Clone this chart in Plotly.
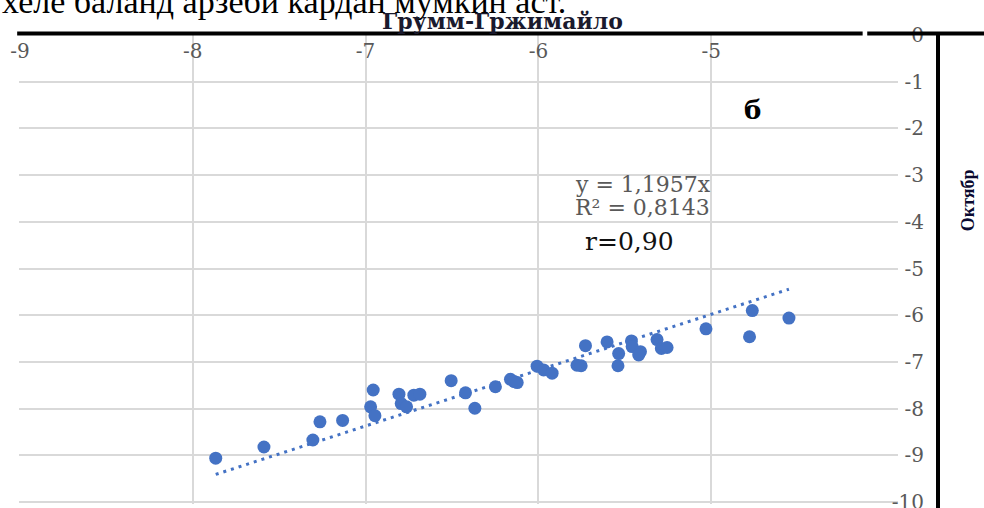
import numpy as np
import plotly.graph_objects as go

x_vals = [-7.867, -7.588, -7.305, -7.264, -7.133, -6.956, -6.971, -6.946,
          -6.807, -6.794, -6.763, -6.721, -6.686, -6.505, -6.422, -6.368,
          -6.249, -6.162, -6.140, -6.123, -6.008, -5.970, -5.921, -5.777,
          -5.753, -5.728, -5.603, -5.540, -5.536, -5.462, -5.458, -5.410,
          -5.420, -5.314, -5.289, -5.256, -5.031, -4.779, -4.763, -4.551]
y_vals = [-9.06, -8.82, -8.67, -8.28, -8.25, -7.60, -7.96, -8.15,
          -7.69, -7.89, -7.96, -7.71, -7.69, -7.40, -7.66, -7.99,
          -7.53, -7.37, -7.42, -7.44, -7.09, -7.17, -7.24, -7.07,
          -7.08, -6.65, -6.57, -7.08, -6.82, -6.55, -6.67, -6.78,
          -6.85, -6.52, -6.71, -6.69, -6.29, -6.46, -5.90, -6.06]

trend_slope = 1.1957
x_ticks = [-9, -8, -7, -6, -5]
x_ticktext = ["-9", "-8", "-7", "-6", "-5"]
y_ticks = [0, -1, -2, -3, -4, -5, -6, -7, -8, -9, -10]
y_ticktext = ["0", "-1", "-2", "-3", "-4", "-5", "-6", "-7", "-8", "-9", "-10"]

blue = "#4472C4"
grid = "#D9D9D9"
tick_grey = "#595959"

fig = go.Figure()

# linear trend through the origin
tx = np.array([min(x_vals), max(x_vals)])
fig.add_trace(go.Scatter(
    x=tx, y=trend_slope * tx, mode="lines",
    line=dict(color=blue, width=3, dash="3px,5px"),
    hoverinfo="skip", showlegend=False,
))

fig.add_trace(go.Scatter(
    x=x_vals, y=y_vals, mode="markers",
    marker=dict(color=blue, size=13),
    showlegend=False,
))

serif = "DejaVu Serif"

fig.update_layout(
    width=984, height=508,
    margin=dict(l=19, r=46, t=35, b=4, autoexpand=False),
    paper_bgcolor="white", plot_bgcolor="white",
    xaxis=dict(
        domain=[0, 0.9565], range=[-9.005, -3.92],
        side="top", tickvals=x_ticks, ticktext=x_ticktext,
        ticklabelposition="inside", ticklabeloverflow="allow",
        ticks="inside", ticklen=10, tickcolor="rgba(0,0,0,0)",
        showgrid=True, gridcolor=grid, gridwidth=1.5,
        zeroline=False, showline=False,
        tickfont=dict(family=serif, size=20, color=tick_grey),
    ),
    yaxis=dict(
        range=[-10.04, 0], anchor="free", position=1, side="left",
        tickvals=y_ticks, ticktext=y_ticktext, ticklabeloverflow="allow",
        ticks="outside", ticklen=10, tickcolor="rgba(0,0,0,0)",
        showgrid=True, gridcolor=grid, gridwidth=1.5,
        zeroline=False, showline=False,
        tickfont=dict(family=serif, size=20, color=tick_grey),
    ),
    shapes=[
        dict(type="line", xref="paper", yref="paper", x0=-0.002, x1=0.918,
             y0=1.003, y1=1.003, line=dict(color="black", width=4)),
        dict(type="line", xref="paper", yref="paper", x0=0.923, x1=1.055,
             y0=1.003, y1=1.003, line=dict(color="black", width=4)),
        dict(type="line", xref="paper", yref="paper", x0=1, x1=1,
             y0=-0.02, y1=1.003, line=dict(color="black", width=4)),
    ],
    annotations=[
        dict(text="хеле баланд арзёби кардан мумкин аст.", xref="paper", yref="paper",
             x=-0.021, y=1.027, xanchor="left", yanchor="bottom", showarrow=False,
             font=dict(family="Liberation Serif", size=34, color="black")),
        dict(text="<b>Грумм-Гржимайло</b>", xref="paper", yref="paper",
             x=0.5256, y=1.0288, xanchor="center", yanchor="middle", showarrow=False,
             font=dict(family=serif, size=22, color="#1a1a2e")),
        dict(text="<b>Октябр</b>", xref="paper", yref="paper",
             x=1.0327, y=0.648, xanchor="center", yanchor="middle", showarrow=False,
             textangle=-90, font=dict(family="Liberation Serif", size=18, color="#0a0a30")),
        dict(text="<b>б</b>", x=-4.763, y=-1.61, showarrow=False,
             font=dict(family=serif, size=26, color="black")),
        dict(text="y = 1,1957x", x=-5.798, y=-3.21, xanchor="left", showarrow=False,
             font=dict(family=serif, size=22, color=tick_grey)),
        dict(text="R² = 0,8143", x=-5.798, y=-3.70, xanchor="left", showarrow=False,
             font=dict(family=serif, size=22, color=tick_grey)),
        dict(text="r=0,90", x=-5.740, y=-4.43, xanchor="left", showarrow=False,
             font=dict(family=serif, size=25, color="#111111")),
    ],
)

# drop the default page margin so the figure sits at the window's corner
fig.write_html("out.html", config={"displayModeBar": False},
               post_script="document.body.style.margin='0';")
